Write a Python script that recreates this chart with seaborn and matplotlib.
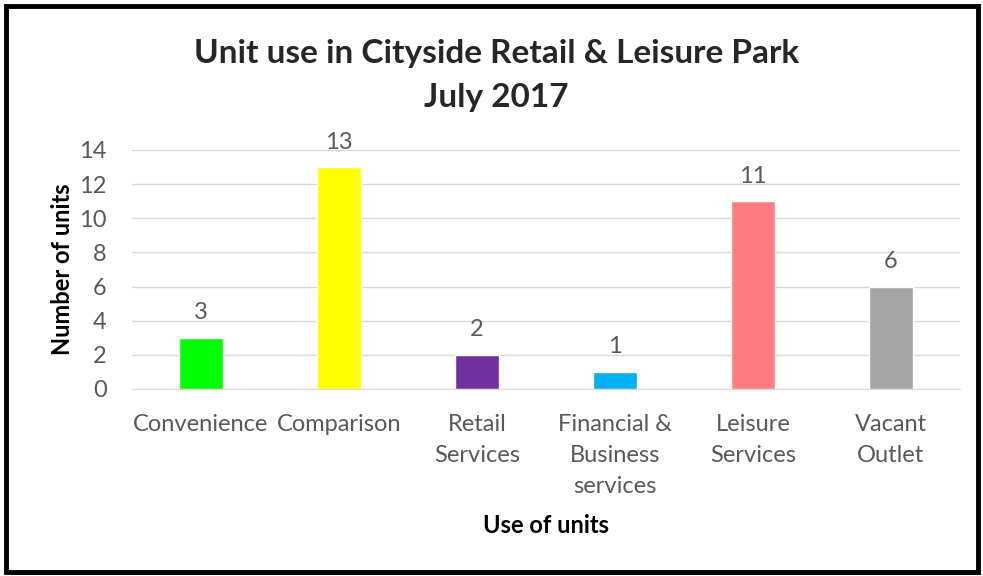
import matplotlib
matplotlib.use("Agg")
import matplotlib.pyplot as plt
import seaborn as sns
import pandas as pd
from matplotlib.patches import Rectangle

# chart data
uses = ['Convenience', 'Comparison', 'Retail\nServices', 'Financial &\nBusiness\nservices',
        'Leisure\nServices', 'Vacant\nOutlet']
units = [3, 13, 2, 1, 11, 6]
bar_colors = ['#00FF00', '#FFFF00', '#7030A0', '#00B0F0', '#FF7C80', '#A5A5A5']

df = pd.DataFrame({'use': uses, 'units': units})

sns.set_style('white')
plt.rcParams['font.family'] = ['Lato', 'DejaVu Sans']

fig = plt.figure(figsize=(9.83, 5.76), dpi=100)
ax = fig.add_axes([0.134, 0.3247, 0.8426, 0.4149])

sns.barplot(data=df, x='use', y='units', hue='use', palette=bar_colors,
            legend=False, width=0.32, ax=ax, saturation=1)

ax.set_ylim(0, 14)
ax.set_yticks(range(0, 15, 2))
ax.yaxis.grid(True, color='#D9D9D9', linewidth=1)
ax.set_axisbelow(True)
for s in ['top', 'right', 'left']:
    ax.spines[s].set_visible(False)
ax.spines['bottom'].set_color('#D9D9D9')
ax.tick_params(axis='both', length=0, labelsize=17, colors='#595959')
ax.tick_params(axis='y', pad=18)
ax.tick_params(axis='x', pad=18)
for lbl in ax.get_xticklabels():
    lbl.set_linespacing(1.6)
    lbl.set_va('top')

for i, v in enumerate(units):
    ax.text(i, v + 0.85, str(v), ha='center', va='bottom', fontsize=17, color='#595959')

ax.set_xlabel('Use of units', fontsize=17, fontweight='bold', color='black')
ax.xaxis.set_label_coords(0.5, -0.523)
ax.set_ylabel('Number of units', fontsize=17, fontweight='bold', color='black', labelpad=4)

fig.text(0.505, 0.907, 'Unit use in Cityside Retail & Leisure Park', ha='center', va='center',
         fontsize=24, fontweight='bold')
fig.text(0.505, 0.83, 'July 2017', ha='center', va='center', fontsize=24, fontweight='bold')

# outer frame
fig.patches.append(Rectangle((6 / 983, 4 / 576), 972 / 983, 566 / 576, transform=fig.transFigure,
                             fill=False, edgecolor='black', linewidth=3.5))

fig.savefig('out.png', dpi=100)
